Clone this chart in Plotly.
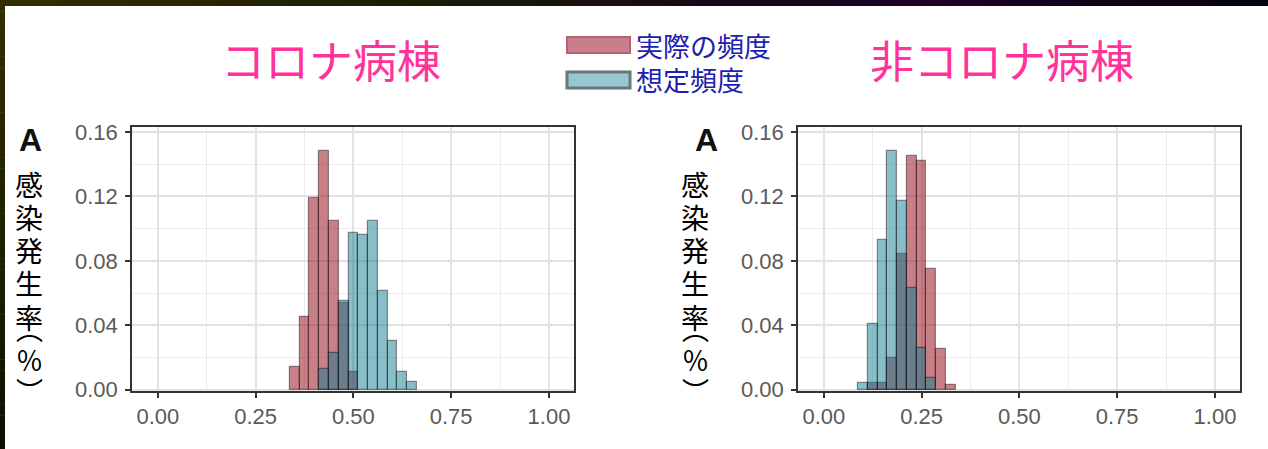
import plotly.graph_objects as go

# ---- data: histogram bin centres (bin width 0.025) and densities ----
bin_width = 0.025

# コロナ病棟
covid_actual_x = [0.350, 0.375, 0.400, 0.425, 0.450, 0.475, 0.500]
covid_actual_y = [0.014, 0.045, 0.119, 0.148, 0.105, 0.054, 0.011]
covid_expected_x = [0.425, 0.450, 0.475, 0.500, 0.525, 0.550, 0.575, 0.600, 0.625, 0.650]
covid_expected_y = [0.013, 0.023, 0.055, 0.097, 0.096, 0.105, 0.061, 0.030, 0.011, 0.005]

# 非コロナ病棟
noncovid_actual_x = [0.125, 0.150, 0.175, 0.200, 0.225, 0.250, 0.275, 0.300, 0.325]
noncovid_actual_y = [0.004, 0.004, 0.020, 0.084, 0.145, 0.142, 0.075, 0.025, 0.003]
noncovid_expected_x = [0.100, 0.125, 0.150, 0.175, 0.200, 0.225, 0.250, 0.275]
noncovid_expected_y = [0.004, 0.041, 0.093, 0.148, 0.117, 0.063, 0.026, 0.007]

x_ticks = [0.0, 0.25, 0.5, 0.75, 1.0]
y_ticks = [0.0, 0.04, 0.08, 0.12, 0.16]

panel_titles = ["コロナ病棟", "非コロナ病棟"]
legend_labels = ["実際の頻度", "想定頻度"]
y_title_main = ["感", "染", "発", "生", "率"]
y_title_unit = ["︵", "％", "︶"]

# ---- styling ----
W, H = 1268, 449
RED_FILL = "rgba(145,0,12,0.5)"
BLUE_FILL = "rgba(15,125,145,0.5)"
BAR_LINE = "rgba(20,10,20,0.45)"
PINK = "#ff3399"
NAVY = "#2020b0"
TICK_FONT = dict(family="Liberation Sans, Arial, sans-serif", size=22, color="#5a5a5a")
JP_FONT = "Noto Sans CJK JP, Noto Sans, sans-serif"


def px_x(x):
    return x / W


def px_y(y):
    return 1 - y / H


fig = go.Figure()

panels = [
    (covid_actual_x, covid_actual_y, covid_expected_x, covid_expected_y, "x", "y"),
    (noncovid_actual_x, noncovid_actual_y, noncovid_expected_x, noncovid_expected_y, "x2", "y2"),
]
for ax, ay, ex, ey, xa, ya in panels:
    fig.add_trace(go.Bar(
        x=ax, y=ay, width=bin_width, xaxis=xa, yaxis=ya,
        marker=dict(color=RED_FILL, line=dict(color=BAR_LINE, width=1.2)),
        name=legend_labels[0], showlegend=False,
    ))
    fig.add_trace(go.Bar(
        x=ex, y=ey, width=bin_width, xaxis=xa, yaxis=ya,
        marker=dict(color=BLUE_FILL, line=dict(color=BAR_LINE, width=1.2)),
        name=legend_labels[1], showlegend=False,
    ))

# panel placement in pixels: (left, right)
panel_px = [(132, 574), (798, 1240)]
top_px, bottom_px = 127, 391

axis_common = dict(
    showline=True, linecolor="#333333", linewidth=1.6, mirror=True,
    ticks="outside", ticklen=5, tickwidth=1.8, tickcolor="#333333",
    showgrid=True, gridcolor="#e2e2e2", gridwidth=1.5,
    zeroline=False, tickfont=TICK_FONT, tickformat=".2f", automargin=False,
)

for i, (l, r) in enumerate(panel_px):
    sfx = "" if i == 0 else "2"
    fig.update_layout(**{
        f"xaxis{sfx}": dict(
            axis_common, domain=[px_x(l), px_x(r)], range=[-0.066, 1.064],
            tickvals=x_ticks, anchor=f"y{sfx}", ticklabelstandoff=0,
            minor=dict(dtick=0.125, tick0=0, showgrid=True, gridcolor="#ececec", gridwidth=1),
        ),
        f"yaxis{sfx}": dict(
            axis_common, domain=[px_y(bottom_px), px_y(top_px)], range=[-0.0008, 0.1631],
            tickvals=y_ticks, anchor=f"x{sfx}", ticklabelstandoff=3,
            minor=dict(dtick=0.02, tick0=0, showgrid=True, gridcolor="#ececec", gridwidth=1),
        ),
    })

annotations = []
shapes = []

# panel titles
for title, cx in zip(panel_titles, [331, 1002]):
    annotations.append(dict(
        text=title, x=px_x(cx), y=px_y(59), xref="paper", yref="paper",
        showarrow=False, xanchor="center", yanchor="middle",
        font=dict(family=JP_FONT, size=44, color=PINK),
    ))


def stacked(chars, glyph_px):
    return "<br>".join(f"<span style='font-size:{glyph_px}px'>{c}</span>" for c in chars)


# panel tags and vertical y-axis titles
for tag_x, title_x in [(30, 29), (706, 695)]:
    annotations.append(dict(
        text="<b>A</b>", x=px_x(tag_x), y=px_y(140), xref="paper", yref="paper",
        showarrow=False, xanchor="center", yanchor="middle",
        font=dict(family="Liberation Sans, Arial, sans-serif", size=32, color="#111111"),
    ))
    annotations.append(dict(
        text=stacked(y_title_main, 28), x=px_x(title_x), y=px_y(250), xref="paper", yref="paper",
        showarrow=False, xanchor="center", yanchor="middle",
        font=dict(family=JP_FONT, size=25.5, color="#000000"),
    ))
    annotations.append(dict(
        text=stacked(y_title_unit, 27), x=px_x(title_x), y=px_y(359), xref="paper", yref="paper",
        showarrow=False, xanchor="center", yanchor="middle",
        font=dict(family=JP_FONT, size=24, color="#000000"),
    ))

# legend
legend_rows = [
    (legend_labels[0], 45, "rgb(202,126,141)", "rgb(178,100,116)", 2),
    (legend_labels[1], 80, "rgb(150,200,210)", "rgb(105,118,124)", 3),
]
for label, cy, fill, edge, lw in legend_rows:
    shapes.append(dict(
        type="rect", xref="paper", yref="paper",
        x0=px_x(567), x1=px_x(630), y0=px_y(cy - 8), y1=px_y(cy + 8),
        fillcolor=fill, line=dict(color=edge, width=lw),
    ))
    annotations.append(dict(
        text=label, x=px_x(634), y=px_y(cy), xref="paper", yref="paper",
        showarrow=False, xanchor="left", yanchor="middle",
        font=dict(family=JP_FONT, size=27, color=NAVY),
    ))

# dark frame strips along the top and left edges of the slide
top_stops = [(0, (48, 46, 0)), (0.35, (28, 26, 8)), (0.55, (22, 10, 22)),
             (0.75, (28, 0, 38)), (1.0, (6, 0, 10))]


def lerp_color(stops, t):
    for (t0, c0), (t1, c1) in zip(stops, stops[1:]):
        if t0 <= t <= t1:
            f = (t - t0) / (t1 - t0) if t1 > t0 else 0
            return "rgb(%d,%d,%d)" % tuple(round(a + (b - a) * f) for a, b in zip(c0, c1))
    return "rgb(%d,%d,%d)" % stops[-1][1]


n_seg = 40
for k in range(n_seg):
    t = (k + 0.5) / n_seg
    shapes.append(dict(
        type="rect", xref="paper", yref="paper", layer="above",
        x0=k / n_seg, x1=(k + 1) / n_seg + 0.001, y0=px_y(6), y1=1,
        fillcolor=lerp_color(top_stops, t), line=dict(width=0),
    ))
left_stops = [(0, (48, 46, 0)), (0.6, (30, 30, 0)), (1.0, (14, 14, 0))]
for k in range(n_seg):
    t = (k + 0.5) / n_seg
    shapes.append(dict(
        type="rect", xref="paper", yref="paper", layer="above",
        x0=0, x1=px_x(5), y0=1 - (k + 1) / n_seg - 0.001, y1=1 - k / n_seg,
        fillcolor=lerp_color(left_stops, t), line=dict(width=0),
    ))

fig.update_layout(
    width=W, height=H, margin=dict(l=0, r=0, t=0, b=0, autoexpand=False),
    paper_bgcolor="white", plot_bgcolor="white",
    barmode="overlay", bargap=0, showlegend=False,
    annotations=annotations, shapes=shapes,
)

fig.write_html("out.html")
